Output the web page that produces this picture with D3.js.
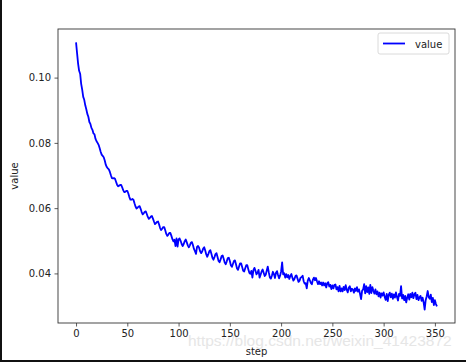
<!DOCTYPE html>
<html>
<head>
<meta charset="utf-8">
<script src="https://cdn.jsdelivr.net/npm/d3@7"></script>
<style>
  body { margin: 0; background: #fff; }
  svg { display: block; font-family: "DejaVu Sans", sans-serif; }
</style>
</head>
<body>
<div id="chart"></div>
<script>
// value per step (steps 0..352)
const values = [
  0.1108, 0.1075, 0.1043, 0.1021, 0.1012, 0.0981, 0.0963, 0.0941, 0.0932, 0.0915,
  0.0903, 0.0889, 0.0880, 0.0864, 0.0858, 0.0846, 0.0840, 0.0829, 0.0826, 0.0812,
  0.0805, 0.0800, 0.0794, 0.0784, 0.0773, 0.0764, 0.0760, 0.0756, 0.0746, 0.0733,
  0.0726, 0.0722, 0.0719, 0.0711, 0.0701, 0.0692, 0.0691, 0.0692, 0.0690, 0.0681,
  0.0672, 0.0667, 0.0669, 0.0671, 0.0671, 0.0664, 0.0655, 0.0649, 0.0650, 0.0653,
  0.0653, 0.0645, 0.0634, 0.0626, 0.0626, 0.0628, 0.0626, 0.0615, 0.0605, 0.0599,
  0.0601, 0.0605, 0.0606, 0.0598, 0.0588, 0.0581, 0.0584, 0.0589, 0.0590, 0.0582,
  0.0573, 0.0567, 0.0570, 0.0574, 0.0576, 0.0568, 0.0559, 0.0551, 0.0554, 0.0558,
  0.0559, 0.0550, 0.0539, 0.0533, 0.0537, 0.0542, 0.0542, 0.0532, 0.0521, 0.0515,
  0.0519, 0.0524, 0.0524, 0.0515, 0.0505, 0.0498, 0.0503, 0.0484, 0.0507, 0.0482,
  0.0504, 0.0507, 0.0500, 0.0490, 0.0484, 0.0490, 0.0499, 0.0504, 0.0495, 0.0486,
  0.0480, 0.0486, 0.0494, 0.0496, 0.0487, 0.0475, 0.0468, 0.0460, 0.0481, 0.0484,
  0.0479, 0.0468, 0.0462, 0.0467, 0.0476, 0.0480, 0.0470, 0.0458, 0.0451, 0.0459,
  0.0468, 0.0471, 0.0460, 0.0448, 0.0442, 0.0450, 0.0459, 0.0462, 0.0450, 0.0438,
  0.0434, 0.0443, 0.0453, 0.0455, 0.0445, 0.0433, 0.0428, 0.0437, 0.0447, 0.0448,
  0.0438, 0.0425, 0.0420, 0.0429, 0.0438, 0.0440, 0.0428, 0.0415, 0.0411, 0.0421,
  0.0431, 0.0431, 0.0420, 0.0408, 0.0406, 0.0416, 0.0425, 0.0425, 0.0413, 0.0402,
  0.0399, 0.0408, 0.0387, 0.0410, 0.0417, 0.0408, 0.0397, 0.0402, 0.0411, 0.0387,
  0.0396, 0.0406, 0.0412, 0.0402, 0.0392, 0.0396, 0.0409, 0.0421, 0.0403, 0.0388,
  0.0384, 0.0393, 0.0405, 0.0398, 0.0386, 0.0402, 0.0407, 0.0395, 0.0385, 0.0393,
  0.0406, 0.0434, 0.0397, 0.0401, 0.0387, 0.0398, 0.0388, 0.0395, 0.0383, 0.0392,
  0.0398, 0.0387, 0.0378, 0.0383, 0.0392, 0.0394, 0.0384, 0.0374, 0.0378, 0.0387,
  0.0389, 0.0393, 0.0376, 0.0369, 0.0370, 0.0354, 0.0378, 0.0386, 0.0379, 0.0371,
  0.0367, 0.0381, 0.0387, 0.0379, 0.0386, 0.0376, 0.0367, 0.0376, 0.0367, 0.0372,
  0.0363, 0.0372, 0.0363, 0.0370, 0.0357, 0.0370, 0.0373, 0.0360, 0.0365, 0.0352,
  0.0363, 0.0354, 0.0365, 0.0366, 0.0351, 0.0358, 0.0345, 0.0362, 0.0345, 0.0354,
  0.0345, 0.0359, 0.0349, 0.0364, 0.0350, 0.0342, 0.0356, 0.0361, 0.0345, 0.0353,
  0.0351, 0.0341, 0.0354, 0.0346, 0.0358, 0.0344, 0.0351, 0.0337, 0.0321, 0.0347,
  0.0351, 0.0367, 0.0339, 0.0361, 0.0343, 0.0357, 0.0337, 0.0365, 0.0340, 0.0358,
  0.0347, 0.0338, 0.0351, 0.0336, 0.0345, 0.0330, 0.0341, 0.0326, 0.0339, 0.0332,
  0.0342, 0.0328, 0.0319, 0.0337, 0.0315, 0.0335, 0.0341, 0.0327, 0.0338, 0.0322,
  0.0336, 0.0326, 0.0342, 0.0328, 0.0317, 0.0337, 0.0331, 0.0361, 0.0323, 0.0334,
  0.0318, 0.0331, 0.0311, 0.0326, 0.0336, 0.0320, 0.0337, 0.0327, 0.0341, 0.0324,
  0.0336, 0.0341, 0.0321, 0.0334, 0.0318, 0.0327, 0.0331, 0.0316, 0.0326, 0.0311,
  0.0289, 0.0318, 0.0330, 0.0346, 0.0327, 0.0322, 0.0335, 0.0312, 0.0325, 0.0303,
  0.0318, 0.0306, 0.0299
];
const steps = d3.range(values.length);
const xTicks = [0, 50, 100, 150, 200, 250, 300, 350];
const yTicks = [0.04, 0.06, 0.08, 0.10];
const seriesName = "value";
const xLabel = "step";
const yLabel = "value";
const watermark = "https://blog.csdn.net/weixin_41423872";

const width = 466, height = 362;
const margin = { top: 29, right: 11, bottom: 39, left: 58 };
const w = width - margin.left - margin.right;
const h = height - margin.top - margin.bottom;

// matplotlib style 5% margins
const xExt = d3.extent(steps), yExt = d3.extent(values);
const xPad = (xExt[1] - xExt[0]) * 0.05, yPad = (yExt[1] - yExt[0]) * 0.05;
const x = d3.scaleLinear().domain([xExt[0] - xPad, xExt[1] + xPad]).range([0, w]);
const y = d3.scaleLinear().domain([yExt[0] - yPad, yExt[1] + yPad]).range([h, 0]);

const svg = d3.select("#chart").append("svg").attr("width", width).attr("height", height);
svg.append("rect").attr("width", width).attr("height", height).attr("fill", "#fff");

const g = svg.append("g").attr("transform", `translate(${margin.left},${margin.top})`);

const line = d3.line().x((d, i) => x(steps[i])).y(d => y(d));
g.append("path").datum(values)
  .attr("d", line)
  .attr("fill", "none")
  .attr("stroke", "#0000ff")
  .attr("stroke-width", 1.8)
  .attr("stroke-linejoin", "round");

const xAxis = g.append("g").attr("transform", `translate(0,${h})`)
  .call(d3.axisBottom(x).tickValues(xTicks).tickSize(3.5).tickPadding(3.5).tickSizeOuter(0));
const yAxis = g.append("g")
  .call(d3.axisLeft(y).tickValues(yTicks).tickSize(3.5).tickPadding(3.5).tickSizeOuter(0).tickFormat(d3.format(".2f")));
[xAxis, yAxis].forEach(a => {
  a.select(".domain").remove();
  a.selectAll("line").attr("stroke", "#333").attr("stroke-width", 0.8);
  a.selectAll("text").attr("fill", "#222").style("font-size", "10px").style("font-family", "DejaVu Sans, sans-serif");
});

g.append("rect").attr("width", w).attr("height", h)
  .attr("fill", "none").attr("stroke", "#333").attr("stroke-width", 0.9);

// faint watermark, as in the source image
svg.insert("text", "g")
  .attr("x", 188).attr("y", 346)
  .attr("fill", "#e6e6e6")
  .style("font-family", "Liberation Sans, Arial, sans-serif")
  .style("font-size", "15.5px")
  .text(watermark);

g.append("text")
  .attr("x", w / 2).attr("y", h + 32)
  .attr("text-anchor", "middle")
  .attr("fill", "#222").style("font-size", "10px")
  .text(xLabel);

g.append("text")
  .attr("transform", "rotate(-90)")
  .attr("x", -h / 2).attr("y", -margin.left + 18)
  .attr("text-anchor", "middle")
  .attr("fill", "#222").style("font-size", "10px")
  .text(yLabel);

// legend
const lg = svg.append("g").attr("transform", "translate(378,33)");
lg.append("rect").attr("width", 71).attr("height", 21).attr("rx", 2)
  .attr("fill", "#fff").attr("fill-opacity", 0.8).attr("stroke", "#d0d0d0").attr("stroke-width", 0.8);
lg.append("line").attr("x1", 5).attr("x2", 27).attr("y1", 10.5).attr("y2", 10.5)
  .attr("stroke", "#0000ff").attr("stroke-width", 1.8);
lg.append("text").attr("x", 37).attr("y", 14.5)
  .attr("fill", "#222").style("font-size", "10px").text(seriesName);

// figure border (left and bottom edges)
svg.append("line").attr("x1", 1).attr("x2", 1).attr("y1", 0).attr("y2", height).attr("stroke", "#111").attr("stroke-width", 2);
svg.append("line").attr("x1", 0).attr("x2", width).attr("y1", height - 1).attr("y2", height - 1).attr("stroke", "#111").attr("stroke-width", 2);
</script>
</body>
</html>
